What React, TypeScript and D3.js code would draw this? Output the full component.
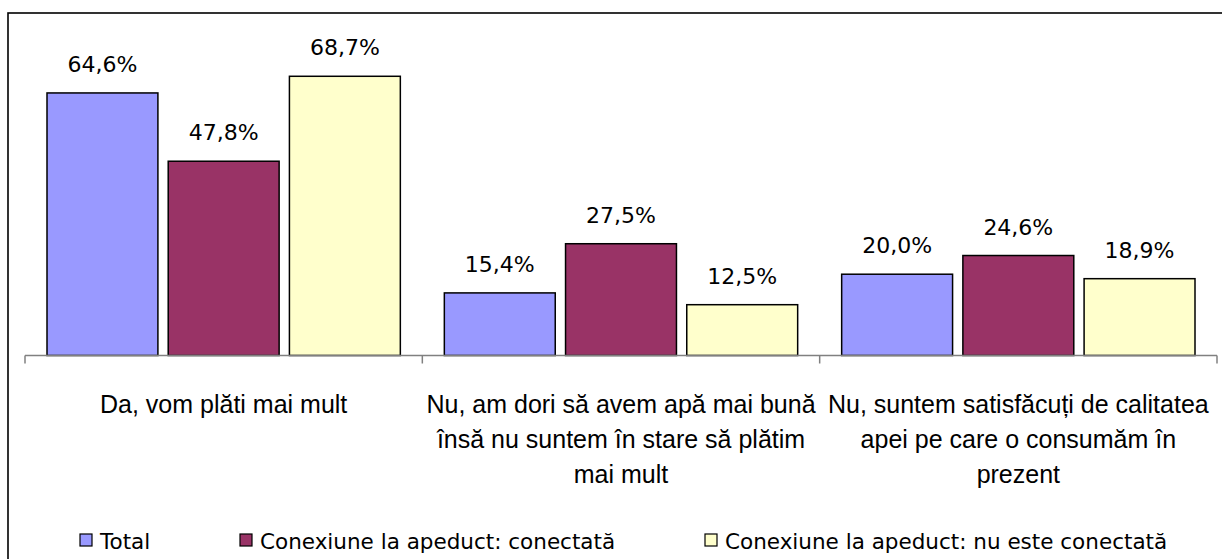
import React from "react";
import * as d3 from "d3";

const categories: string[][] = [
  ["Da, vom plăti mai mult"],
  ["Nu, am dori să avem apă mai bună", "însă nu suntem în stare să plătim", "mai mult"],
  ["Nu, suntem satisfăcuți de calitatea", "apei pe care o consumăm în", "prezent"],
];
const seriesNames = [
  "Total",
  "Conexiune la apeduct: conectată",
  "Conexiune la apeduct: nu este conectată",
];
const total = [64.6, 15.4, 20.0];
const conectata = [47.8, 27.5, 24.6];
const neconectata = [68.7, 12.5, 18.9];
const seriesValues = [total, conectata, neconectata];
const colors = ["#9999FF", "#993366", "#FFFFCC"];

const W = 1222;
const H = 559;
const FONT_CAT = "Liberation Sans, Arial, sans-serif";
const FONT_VAL = "DejaVu Sans, sans-serif";

export default function App() {
  const catIdx = categories.map((_, i) => String(i));
  const x0 = d3.scaleBand<string>().domain(catIdx).range([25, 1217]).padding(0);
  const bw = x0.bandwidth();
  const x1 = d3
    .scaleBand<string>()
    .domain(seriesNames)
    .range([22, bw - 22])
    .paddingInner(0.085)
    .paddingOuter(0);
  const y = d3.scaleLinear().domain([0, 70]).range([355.5, 71]);
  const fmt = (v: number) => v.toFixed(1).replace(".", ",") + "%";

  const legendX = [80, 240, 705];

  return (
    <svg
      width={W}
      height={H}
      style={{ position: "absolute", left: 0, top: 0, display: "block", background: "#fff" }}
    >
      <rect x={8} y={13} width={1230} height={570} fill="#fff" stroke="#000" strokeWidth={1.6} />
      {catIdx.map((c, ci) =>
        seriesNames.map((s, si) => {
          const v = seriesValues[si][ci];
          const bx = (x0(c) ?? 0) + (x1(s) ?? 0);
          return (
            <g key={c + s}>
              <rect
                x={bx}
                y={y(v)}
                width={x1.bandwidth()}
                height={y(0) - y(v)}
                fill={colors[si]}
                stroke="#000"
                strokeWidth={1.5}
              />
              <text
                x={bx + x1.bandwidth() / 2}
                y={y(v) - 21}
                textAnchor="middle"
                style={{ fontFamily: FONT_VAL, fontSize: 22 }}
                fill="#000"
              >
                {fmt(v)}
              </text>
            </g>
          );
        })
      )}
      <line x1={25} x2={1217} y1={y(0)} y2={y(0)} stroke="#808080" strokeWidth={1.5} />
      {[...catIdx.map((c) => x0(c) ?? 0), 1217].map((t, i) => (
        <line key={i} x1={t} x2={t} y1={y(0)} y2={y(0) + 8} stroke="#808080" strokeWidth={1.5} />
      ))}
      {categories.map((lines, ci) => (
        <text
          key={ci}
          textAnchor="middle"
          style={{ fontFamily: FONT_CAT, fontSize: 25 }}
          fill="#000"
        >
          {lines.map((l, li) => (
            <tspan key={li} x={(x0(String(ci)) ?? 0) + bw / 2} y={413 + li * 35}>
              {l}
            </tspan>
          ))}
        </text>
      ))}
      {seriesNames.map((s, si) => (
        <g key={s} transform={`translate(${legendX[si]},0)`}>
          <rect x={0} y={534} width={12} height={12} fill={colors[si]} stroke="#000" strokeWidth={1.2} />
          <text x={20} y={549} style={{ fontFamily: FONT_VAL, fontSize: 21.5 }} fill="#000">
            {s}
          </text>
        </g>
      ))}
    </svg>
  );
}
